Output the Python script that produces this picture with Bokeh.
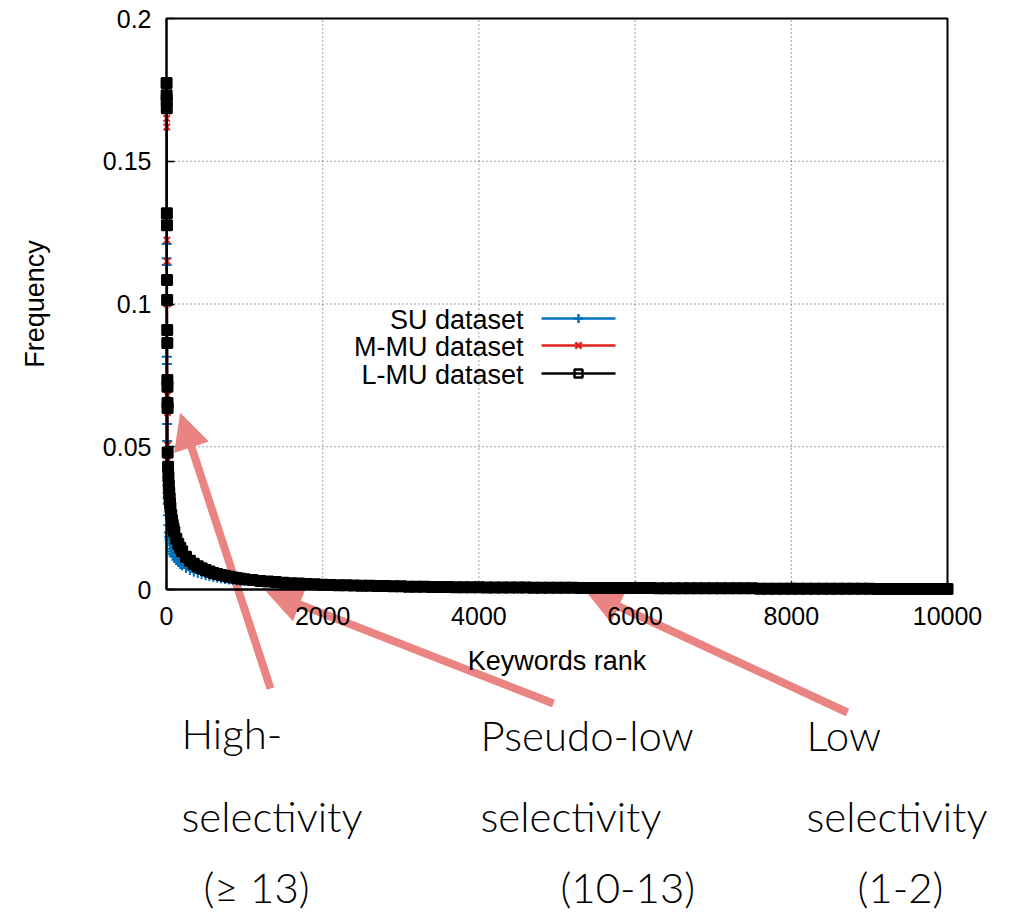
from bokeh.plotting import figure
from bokeh.models import Range1d, FixedTicker, Label, Arrow, NormalHead, LinearAxis
from bokeh.embed import file_html
from bokeh.resources import INLINE

# ---------------- data ----------------
series_names = ["SU dataset", "M-MU dataset", "L-MU dataset"]

# L-MU dataset: keyword rank -> frequency
ranks_lmu = [1, 2, 3, 4, 5, 6, 7, 8, 9, 10, 11, 12, 13, 14, 15,
             20, 25, 30, 35, 40, 45, 50, 60, 70, 80, 90, 100, 125, 150, 175,
             200, 250, 300, 350, 400, 450, 500, 550, 600, 650, 700, 750, 800, 850, 900, 950, 1000,
             1100, 1200, 1300, 1400, 1500, 1600, 1700, 1800, 1900, 2000,
             2100, 2200, 2300, 2400, 2500, 2600, 2700, 2800, 2900, 3000,
             3100, 3200, 3300, 3400, 3500, 3600, 3700, 3800, 3900, 4000,
             4100, 4200, 4300, 4400, 4500, 4600, 4700, 4800, 4900, 5000,
             5100, 5200, 5300, 5400, 5500, 5600, 5700, 5800, 5900, 6000,
             6100, 6200, 6300, 6400, 6500, 6600, 6700, 6800, 6900, 7000,
             7100, 7200, 7300, 7400, 7500, 7600, 7700, 7800, 7900, 8000,
             8100, 8200, 8300, 8400, 8500, 8600, 8700, 8800, 8900, 9000,
             9100, 9200, 9300, 9400, 9500, 9600, 9700, 9800, 9900, 10000]
lmu = [0.1774, 0.1731, 0.1714, 0.1686, 0.1318, 0.1276, 0.1084, 0.1014, 0.0909, 0.0863, 0.0734, 0.0710, 0.0653, 0.0636, 0.0480,
       0.0430, 0.0395, 0.0365, 0.0340, 0.0320, 0.0302, 0.0287, 0.0262, 0.0243, 0.0227, 0.0213, 0.0201, 0.0178, 0.0160, 0.0146,
       0.0134, 0.0115, 0.0101, 0.0090, 0.0081, 0.0074, 0.0068, 0.0063, 0.0058, 0.0054, 0.0051, 0.0048, 0.0045, 0.0042, 0.0040, 0.0038, 0.0036,
       0.0033, 0.0030, 0.0028, 0.0026, 0.0024, 0.0022, 0.0021, 0.0019, 0.0018, 0.0017,
       0.0016, 0.0015, 0.0015, 0.0014, 0.0013, 0.0013, 0.0012, 0.0012, 0.0011, 0.0011,
       0.0010, 0.0010, 0.0010, 0.0009, 0.0009, 0.0009, 0.0008, 0.0008, 0.0008, 0.0008,
       0.0007, 0.0007, 0.0007, 0.0007, 0.0007, 0.0007, 0.0006, 0.0006, 0.0006, 0.0006,
       0.0006, 0.0006, 0.0005, 0.0005, 0.0005, 0.0005, 0.0005, 0.0005, 0.0005, 0.0005,
       0.0005, 0.0005, 0.0004, 0.0004, 0.0004, 0.0004, 0.0004, 0.0004, 0.0004, 0.0004,
       0.0004, 0.0004, 0.0004, 0.0004, 0.0004, 0.0003, 0.0003, 0.0003, 0.0003, 0.0003,
       0.0003, 0.0003, 0.0003, 0.0003, 0.0003, 0.0003, 0.0003, 0.0003, 0.0003, 0.0003,
       0.0002, 0.0002, 0.0002, 0.0002, 0.0002, 0.0002, 0.0002, 0.0002, 0.0002, 0.0002]

# SU and M-MU datasets share this rank grid
ranks_b = [1, 2, 3, 4, 5, 6, 7, 8, 9, 10, 11, 12, 13, 14, 15,
           20, 25, 30, 35, 40, 45, 50, 60, 70, 80, 90, 100, 125, 150, 175,
           200, 250, 300, 350, 400, 450, 500, 550, 600, 650, 700, 750, 800, 850, 900, 950, 1000,
           1500, 2000, 2500, 3000, 3500, 4000, 4500, 5000, 5500, 6000, 6500, 7000, 7500, 8000, 8500, 9000, 9500, 10000]
su = [0.1210, 0.1160, 0.1137, 0.0815, 0.0790, 0.0660, 0.0580, 0.0520, 0.0470, 0.0430, 0.0395, 0.0365, 0.0340, 0.0320, 0.0300,
      0.0260, 0.0225, 0.0200, 0.0185, 0.0173, 0.0163, 0.0155, 0.0143, 0.0134, 0.0126, 0.0120, 0.0115, 0.0104, 0.0096, 0.0089,
      0.0084, 0.0075, 0.0068, 0.0062, 0.0058, 0.0054, 0.0050, 0.0047, 0.0044, 0.0041, 0.0039, 0.0037, 0.0035, 0.0033, 0.0032, 0.0031, 0.0030,
      0.0019, 0.0013, 0.0010, 0.0008, 0.0006, 0.0005, 0.0004, 0.0004, 0.0003, 0.0003, 0.0003, 0.0002, 0.0002, 0.0002, 0.0002, 0.0001, 0.0001, 0.0001]
mmu = [0.1720, 0.1690, 0.1650, 0.1620, 0.1224, 0.1150, 0.1080, 0.1000, 0.0905, 0.0860, 0.0730, 0.0680, 0.0620, 0.0506, 0.0450,
       0.0390, 0.0350, 0.0322, 0.0300, 0.0282, 0.0266, 0.0252, 0.0230, 0.0213, 0.0199, 0.0187, 0.0177, 0.0157, 0.0141, 0.0129,
       0.0119, 0.0102, 0.0090, 0.0080, 0.0073, 0.0067, 0.0062, 0.0057, 0.0053, 0.0050, 0.0047, 0.0044, 0.0041, 0.0039, 0.0037, 0.0035, 0.0033,
       0.0022, 0.0016, 0.0012, 0.0010, 0.0009, 0.0008, 0.0007, 0.0006, 0.0005, 0.0005, 0.0004, 0.0004, 0.0003, 0.0003, 0.0003, 0.0002, 0.0002, 0.0002]

x_ticks = [0, 2000, 4000, 6000, 8000, 10000]
y_ticks = [0, 0.05, 0.1, 0.15, 0.2]
y_tick_labels = ["0", "0.05", "0.1", "0.15", "0.2"]

annotation_texts = [
    ["High-", "selectivity", "(\u2265 13)"],
    ["Pseudo-low", "selectivity", "(10-13)"],
    ["Low", "selectivity", "(1-2)"],
]

# ---------------- layout / styles ----------------
W, H = 1012, 915                     # canvas size (page pixels)
FL, FR, FT, FB = 166, 947, 18, 589   # data frame edges in page pixels
XMIN, XMAX = 0, 10000
YMIN, YMAX = 0, 0.2
kx = (XMAX - XMIN) / (FR - FL)
ky = (YMAX - YMIN) / (FB - FT)

BLUE = "#0072bd"
RED = "#e3211c"
BLACK = "#000000"
SALMON = "#ea8482"
GRID = "#444444"
AXFONT = "Liberation Sans"
NOTEFONT = "Lato Light"

# the figure's own frame covers the whole canvas, with a page-pixel range,
# so that the annotation arrows and texts below the axes are not clipped
p = figure(width=W, height=H,
           x_range=Range1d(0, W), y_range=Range1d(H, 0),
           x_axis_type=None, y_axis_type=None,
           output_backend="svg", toolbar_location=None, min_border=0)
p.outline_line_color = None
p.background_fill_color = "white"
p.border_fill_color = "white"

# data ranges mapped onto the chart's frame
p.extra_x_ranges = {"dx": Range1d(XMIN - FL * kx, XMIN + (W - FL) * kx)}
p.extra_y_ranges = {"dy": Range1d(YMIN - (H - FB) * ky, YMIN + FB * ky)}

# grid (dotted), drawn from the tick lists, lowest layer
gx = x_ticks[1:-1]
p.segment(x0=gx, y0=[YMIN] * len(gx), x1=gx, y1=[YMAX] * len(gx),
          line_color=GRID, line_width=1, line_dash="1 3", level="image",
          x_range_name="dx", y_range_name="dy")
gy = y_ticks[1:-1]
p.segment(x0=[XMIN] * len(gy), y0=gy, x1=[XMAX] * len(gy), y1=gy,
          line_color=GRID, line_width=1, line_dash="1 3", level="image",
          x_range_name="dx", y_range_name="dy")

# ---------------- annotation arrows (above grid, below data and axis texts) ----------------
arrows = [((270, 688), (180, 413)),
          ((553, 703), (266, 591)),
          ((847, 712), (586, 591))]
for (x0, y0), (x1, y1) in arrows:
    p.renderers.append(Arrow(end=NormalHead(size=35, fill_color=SALMON, line_color=SALMON, line_width=1),
                             x_start=x0, y_start=y0, x_end=x1, y_end=y1,
                             line_color=SALMON, line_width=8, level="underlay"))

# frame border
p.quad(left=[XMIN], right=[XMAX], bottom=[YMIN], top=[YMAX],
       fill_color=None, line_color="black", line_width=2,
       x_range_name="dx", y_range_name="dy")

# axes fixed on the data frame
xaxis = LinearAxis(x_range_name="dx", y_range_name="dy", fixed_location=YMIN,
                   bounds=(XMIN, XMAX), ticker=FixedTicker(ticks=x_ticks),
                   axis_label="Keywords rank")
yaxis = LinearAxis(x_range_name="dx", y_range_name="dy", fixed_location=XMIN,
                   bounds=(YMIN, YMAX), ticker=FixedTicker(ticks=y_ticks),
                   axis_label="Frequency")
yaxis.major_label_overrides = {t: s for t, s in zip(y_ticks, y_tick_labels)}
for ax in (xaxis, yaxis):
    ax.axis_line_width = 2
    ax.major_tick_in = 8
    ax.major_tick_out = 0
    ax.major_tick_line_width = 1.5
    ax.minor_tick_in = 0
    ax.minor_tick_out = 0
    ax.major_label_text_font = AXFONT
    ax.major_label_text_font_size = "25px"
    ax.major_label_text_color = "black"
    ax.axis_label_text_font = AXFONT
    ax.axis_label_text_font_size = "27px"
    ax.axis_label_text_font_style = "normal"
    ax.axis_label_text_color = "black"
xaxis.major_label_standoff = 17
yaxis.major_label_standoff = 15
xaxis.axis_label_standoff = 18
yaxis.axis_label_standoff = 50
p.add_layout(xaxis, "below")
p.add_layout(yaxis, "left")

# ---------------- series ----------------
p.line(ranks_b, su, line_color=BLUE, line_width=2, x_range_name="dx", y_range_name="dy")
p.scatter(ranks_b, su, marker="cross", size=10, line_color=BLUE, line_width=2,
          x_range_name="dx", y_range_name="dy")
p.line(ranks_b, mmu, line_color=RED, line_width=2, x_range_name="dx", y_range_name="dy")
p.scatter(ranks_b, mmu, marker="x", size=9, line_color=RED, line_width=2,
          x_range_name="dx", y_range_name="dy")
p.line(ranks_lmu, lmu, line_color=BLACK, line_width=2, x_range_name="dx", y_range_name="dy")
p.scatter(ranks_lmu, lmu, marker="square", size=10, line_color=BLACK, line_width=2,
          fill_color=BLACK, x_range_name="dx", y_range_name="dy")

# ---------------- legend (gnuplot style: text left, sample right) ----------------
leg_text_x = 523
leg_rows_y = [318, 345, 373]
leg_colors = [BLUE, RED, BLACK]
leg_markers = ["cross", "x", "square"]
for name, yy, col, mk in zip(series_names, leg_rows_y, leg_colors, leg_markers):
    p.add_layout(Label(x=leg_text_x, y=yy + 1, text=name, text_align="right",
                       text_baseline="alphabetic", text_font=AXFONT, text_font_size="27px",
                       text_color="black"))
    p.line([541, 615], [yy, yy], line_color=col, line_width=2.5)
    p.scatter([578], [yy], marker=mk, size=9 if mk != "square" else 8,
              line_color=col, line_width=2.5, fill_color=None)

# ---------------- annotation texts ----------------
note_pos = [[(181, 732), (181, 815), (203, 886)],
            [(480, 734), (480, 815), (560, 886)],
            [(806, 734), (806, 815), (857, 886)]]
for texts, poss in zip(annotation_texts, note_pos):
    for t, (xx, yy) in zip(texts, poss):
        p.add_layout(Label(x=xx, y=yy, text=t, text_align="left", text_baseline="alphabetic",
                           text_font=NOTEFONT, text_font_size="42px", text_color="black"))

open("out.html", "w").write(file_html(p, INLINE))
